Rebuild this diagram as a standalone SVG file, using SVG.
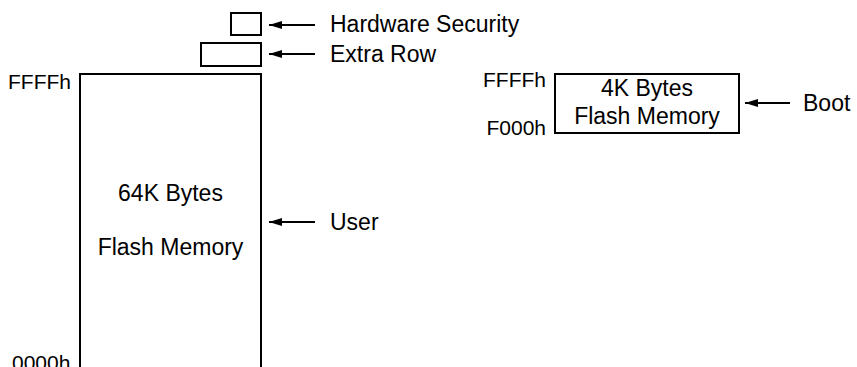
<svg xmlns="http://www.w3.org/2000/svg" width="857" height="367" viewBox="0 0 857 367">
<style>
text{font-family:"Liberation Sans",Arial,sans-serif;font-size:23px;fill:#000}
text.a{font-size:21px}
.box{fill:#fff;stroke:#000;stroke-width:2}
.c{text-anchor:middle}
.r{text-anchor:end}
.arr{stroke:#000;stroke-width:2;fill:none;marker-end:url(#ah)}
</style>
<defs>
<marker id="ah" markerWidth="14" markerHeight="10" refX="13" refY="5" orient="auto" markerUnits="userSpaceOnUse">
<path d="M0,1 L13,5 L0,9 Z" fill="#000"/>
</marker>
</defs>
<g id="hw-security"><rect class="box" x="231" y="13" width="30" height="22"/><text x="330" y="32">Hardware Security</text></g>
<g id="extra-row"><rect class="box" x="201" y="43" width="60" height="23"/><text x="330" y="62">Extra Row</text></g>
<g id="user-flash">
<path class="box" d="M80,368 V74 H261 V368" fill="none"/>
<text class="a" x="8" y="89">FFFFh</text>
<text class="a" x="12" y="370">0000h</text>
<text class="c" x="170.5" y="201">64K Bytes</text>
<text class="c" x="170.5" y="255">Flash Memory</text>
<text x="330" y="230">User</text>
</g>
<g id="boot-flash">
<rect class="box" x="555" y="74" width="184" height="59"/>
<text class="c" x="647" y="96">4K Bytes</text>
<text class="c" x="647" y="124">Flash Memory</text>
<text class="a r" x="546" y="87">FFFFh</text>
<text class="a r" x="546" y="135">F000h</text>
<text x="803" y="111">Boot</text>
</g>
<g id="connectors">
<line class="arr" x1="315" y1="25" x2="269" y2="25"/>
<line class="arr" x1="315" y1="54" x2="269" y2="54"/>
<line class="arr" x1="315" y1="222" x2="269" y2="222"/>
<line class="arr" x1="790" y1="103" x2="745" y2="103"/>
</g>
</svg>
